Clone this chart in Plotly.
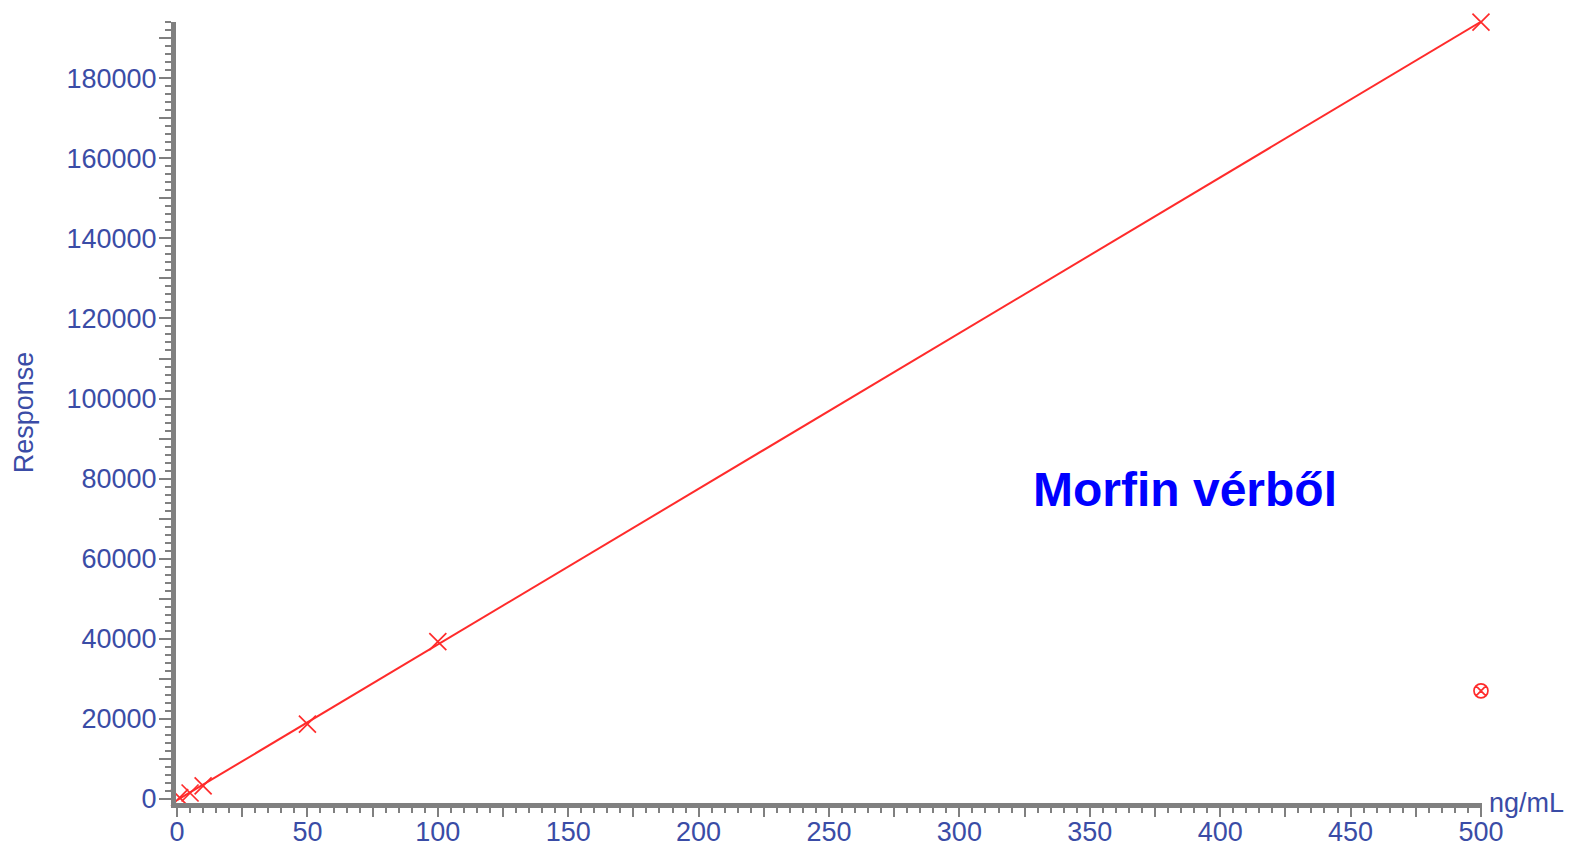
import numpy as np
import plotly.graph_objects as go

# Calibration data
conc = [1, 5, 10, 50, 100, 500]
response = [350, 1500, 3300, 18700, 39300, 194000]
outlier_conc = [500]
outlier_response = [27000]

x_tickvals = list(range(0, 501, 25))
x_ticktext = [str(v) if v % 50 == 0 else "" for v in x_tickvals]
y_tickvals = list(range(0, 190001, 10000))
y_ticktext = [str(v) if v % 20000 == 0 else "" for v in y_tickvals]

slope, intercept = np.polyfit(conc, response, 1)
fit_x = np.array([0, 500])
fit_y = slope * fit_x + intercept

RED = "#ff2b2b"
BLUE = "#3a4ca6"
GREY = "#808080"
FONT = "Liberation Sans, Arial, sans-serif"

fig = go.Figure()
fig.add_trace(go.Scatter(x=fit_x, y=fit_y, mode="lines",
                         line=dict(color=RED, width=2), hoverinfo="skip",
                         cliponaxis=False))
fig.add_trace(go.Scatter(x=conc, y=response, mode="markers",
                         marker=dict(symbol="x-thin-open", size=17, color=RED,
                                     line=dict(color=RED, width=1.7)),
                         cliponaxis=False))
fig.add_trace(go.Scatter(x=outlier_conc, y=outlier_response, mode="markers",
                         marker=dict(symbol="circle-x-open", size=14, color=RED,
                                     line=dict(color=RED, width=1.7)),
                         cliponaxis=False))

fig.update_layout(
    width=1572, height=845,
    margin=dict(l=168, r=98, t=14, b=50),
    paper_bgcolor="white", plot_bgcolor="white",
    showlegend=False,
    font=dict(family=FONT, size=27, color=BLUE),
    xaxis=dict(
        range=[-0.4, 500.4], tickmode="array", tickvals=x_tickvals, ticktext=x_ticktext,
        ticks="outside", ticklen=9, tickwidth=2, tickcolor=GREY,
        showline=True, linecolor=GREY, linewidth=5,
        showgrid=False, zeroline=False, automargin=False,
        ticklabelstandoff=-8,
        tickfont=dict(family=FONT, size=27, color=BLUE),
        minor=dict(dtick=5, ticks="outside", ticklen=5, tickwidth=1.5, tickcolor=GREY, showgrid=False),
    ),
    yaxis=dict(
        range=[-1000, 194030], tickmode="array", tickvals=y_tickvals, ticktext=y_ticktext,
        ticks="outside", ticklen=12, tickwidth=2, tickcolor=GREY,
        showline=True, linecolor=GREY, linewidth=5,
        showgrid=False, zeroline=False, automargin=False,
        ticklabelstandoff=-3,
        tickfont=dict(family=FONT, size=27, color=BLUE),
        title=dict(text="Response", standoff=27, font=dict(family=FONT, size=27, color=BLUE)),
        minor=dict(dtick=2000, ticks="outside", ticklen=6, tickwidth=1.5, tickcolor=GREY, showgrid=False),
    ),
    annotations=[
        dict(text="ng/mL", xref="paper", yref="paper", x=1.004, y=0.0, xanchor="left",
             yanchor="middle", showarrow=False, font=dict(family=FONT, size=27, color=BLUE)),
        dict(text="<b>Morfin vérből</b>", xref="x", yref="y", x=386.5, y=77200,
             xanchor="center", yanchor="middle", showarrow=False,
             font=dict(family=FONT, size=48, color="#0000ff")),
    ],
)

fig.write_html("out.html")
